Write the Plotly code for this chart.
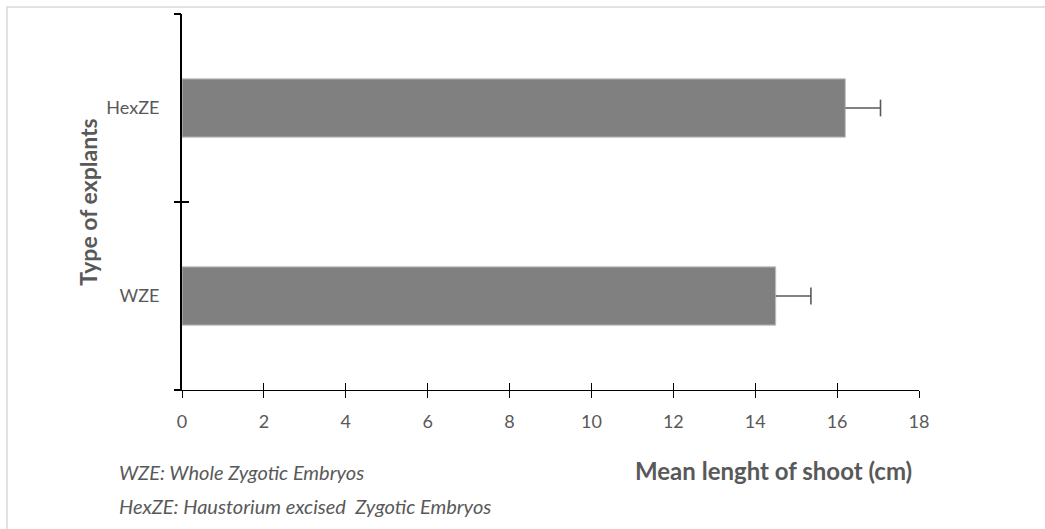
import plotly.graph_objects as go

# Explant types (bottom to top) and mean shoot length with its error
explants = ["WZE", "HexZE"]
mean_length = [14.5, 16.2]
length_err = [0.86, 0.86]

x_ticks = [0, 2, 4, 6, 8, 10, 12, 14, 16, 18]
y_bounds = [-0.5, 0.5, 1.5]

footnotes = [
    "WZE: Whole Zygotic Embryos",
    "HexZE: Haustorium excised\u00a0 Zygotic Embryos",
]

FONT = "Lato, Carlito, Calibri, sans-serif"
TXT = "#595959"

fig = go.Figure()
fig.add_trace(go.Bar(
    x=mean_length,
    y=explants,
    orientation="h",
    width=0.31,
    marker=dict(color="#808080", line=dict(color="#bfbfbf", width=1)),
    showlegend=False,
    hoverinfo="skip",
))

# Plus-only error whiskers: a line from the bar end to mean + error, capped
wx, wy = [], []
for cat, m, e in zip(explants, mean_length, length_err):
    wx += [m, m + e, None]
    wy += [cat, cat, None]
fig.add_trace(go.Scatter(
    x=wx, y=wy, mode="lines",
    line=dict(color=TXT, width=1.6),
    showlegend=False, hoverinfo="skip",
))
fig.add_trace(go.Scatter(
    x=[m + e for m, e in zip(mean_length, length_err)], y=explants,
    mode="markers",
    marker=dict(symbol="line-ns", size=12, line=dict(color=TXT, width=1.6)),
    showlegend=False, hoverinfo="skip",
))

# Invisible helper traces so the overlaid axes carrying the inner halves
# of the crossing tick marks get drawn
for xa, ya in (("x2", "y2"), ("x2", "y3")):
    fig.add_trace(go.Scatter(
        x=[x_ticks[0]], y=[y_bounds[0]], xaxis=xa, yaxis=ya,
        mode="markers", marker=dict(opacity=0),
        showlegend=False, hoverinfo="skip",
    ))

tick_axis = dict(
    showticklabels=False,
    showline=False,
    showgrid=False,
    zeroline=False,
    ticklen=7,
    tickcolor="black",
)

fig.update_layout(
    width=1045,
    height=529,
    margin=dict(l=182, r=126, t=14, b=139),
    paper_bgcolor="white",
    plot_bgcolor="white",
    font=dict(family=FONT, size=18, color=TXT),
    xaxis=dict(
        range=[0, 18],
        tickvals=x_ticks,
        ticks="outside",
        ticklen=7,
        tickcolor="black",
        tickwidth=1,
        showline=True,
        linecolor="black",
        linewidth=1,
        showgrid=False,
        zeroline=False,
        tickfont=dict(family=FONT, size=18, color=TXT),
        ticklabelstandoff=8,
    ),
    xaxis2=dict(
        overlaying="x", anchor="y2",
        range=[0, 18], tickvals=x_ticks, ticks="inside", tickwidth=1,
        **tick_axis,
    ),
    yaxis=dict(
        type="category",
        categoryarray=explants,
        range=[-0.5, 1.5],
        ticks="",
        showline=True,
        linecolor="black",
        linewidth=2,
        showgrid=False,
        zeroline=False,
        tickfont=dict(family=FONT, size=18, color=TXT),
        ticklabelstandoff=17,
        title=dict(
            text="<b>Type of explants</b>",
            font=dict(family=FONT, size=23, color=TXT),
            standoff=2,
        ),
    ),
    yaxis2=dict(
        overlaying="y", anchor="x2",
        range=[-0.5, 1.5], tickvals=y_bounds, ticks="outside", tickwidth=1.5,
        **tick_axis,
    ),
    yaxis3=dict(
        overlaying="y", anchor="x2",
        range=[-0.5, 1.5], tickvals=y_bounds, ticks="inside", tickwidth=1.5,
        **tick_axis,
    ),
)

# Chart frame
fig.add_shape(
    type="rect", xref="paper", yref="paper",
    x0=-175 / 737, x1=1.3, y0=-0.5, y1=1 + 7 / 376,
    line=dict(color="#d9d9d9", width=1.5), fillcolor="rgba(0,0,0,0)",
    layer="below",
)

# X-axis title
fig.add_annotation(
    text="<b>Mean lenght of shoot (cm)</b>",
    xref="paper", yref="paper", x=(773 - 182) / 737, y=-(470 - 390) / 376,
    xanchor="center", yanchor="middle", showarrow=False,
    font=dict(family=FONT, size=24, color=TXT),
)

# Abbreviation notes
for i, note in enumerate(footnotes):
    fig.add_annotation(
        text=f"<i>{note}</i>",
        xref="paper", yref="paper", x=(117 - 182) / 737, y=-(472 + 34 * i - 390) / 376,
        xanchor="left", yanchor="middle", showarrow=False,
        font=dict(family=FONT, size=20, color=TXT),
    )

fig.write_html("out.html")
